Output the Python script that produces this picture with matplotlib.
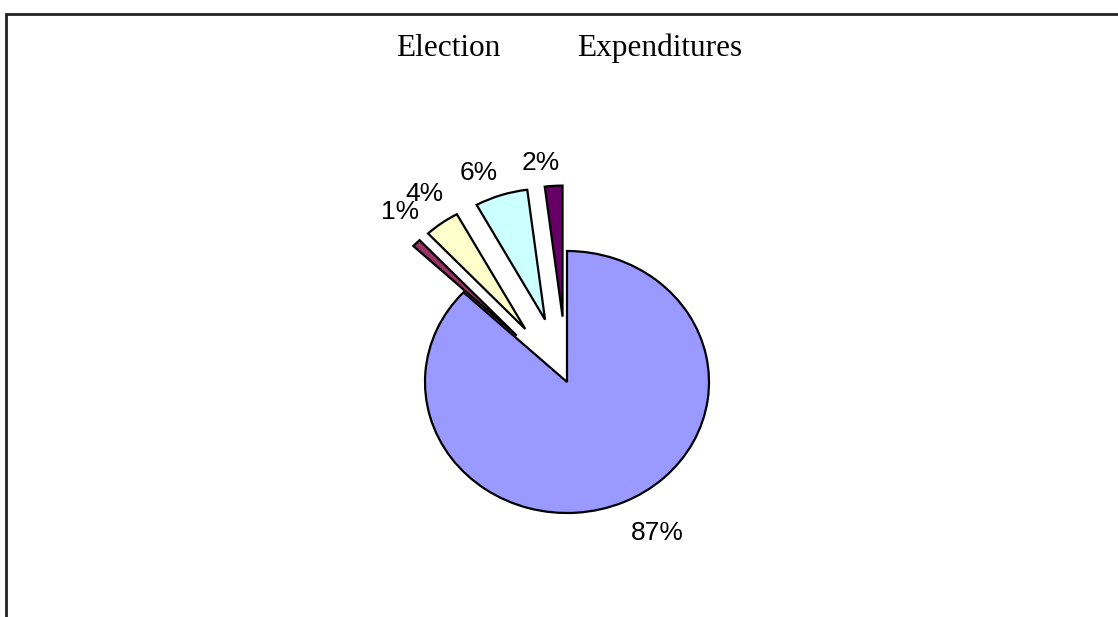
"""
Election expenditures pie chart with exploded small slices.
"""

import matplotlib.pyplot as plt
from matplotlib.patches import Rectangle

# data, clockwise from 12 o'clock
shares = [87, 1, 4, 6, 2]
pct_labels = ["87%", "1%", "4%", "6%", "2%"]
explode = [0.0, 0.5, 0.5, 0.5, 0.5]
colors = ["#9999FF", "#993366", "#FFFFCC", "#CCFFFF", "#660066"]
title_words = ["Election", "Expenditures"]

W, H = 1118, 617
fig = plt.figure(figsize=(W / 100, H / 100), dpi=100)

# pie centre at (567, 382) px, radii 142 px (x) and 131 px (y)
cx, cy, rx, ry = 567, H - 382, 142, 131
xlim, ylim = (-3.0, 3.0), (-1.7, 2.4)
ax = fig.add_axes([
    (cx + xlim[0] * rx) / W,
    (cy + ylim[0] * ry) / H,
    (xlim[1] - xlim[0]) * rx / W,
    (ylim[1] - ylim[0]) * ry / H,
])

wedges, texts = ax.pie(
    shares,
    labels=pct_labels,
    explode=explode,
    colors=colors,
    startangle=90,
    counterclock=False,
    labeldistance=1.3,
    wedgeprops={"edgecolor": "black", "linewidth": 1.6},
    textprops={"fontsize": 19, "family": "Liberation Sans"},
)

# small nudges (px) so the labels sit where the original puts them
nudges = [(17, -5), (14, -3), (8, 3), (-9, 15), (-10, 16)]
for t, (dx, dy) in zip(texts, nudges):
    x, y = t.get_position()
    t.set_position((x + dx / rx, y - dy / ry))
    t.set_ha("center")
    t.set_va("center")

ax.set_aspect("auto")
ax.set_xlim(*xlim)
ax.set_ylim(*ylim)
ax.axis("off")

# title, two words spaced apart
fig.text(448 / W, 1 - 48 / H, title_words[0], ha="center", va="center",
         fontsize=22.5, family="Liberation Serif")
fig.text(660 / W, 1 - 48 / H, title_words[1], ha="center", va="center",
         fontsize=22.5, family="Liberation Serif")

# chart frame (left and top edges visible)
fig.patches.append(Rectangle((6 / W, -0.1), 1.2, 1 - 14 / H + 0.1,
                             transform=fig.transFigure, fill=False,
                             edgecolor="#222222", linewidth=2))

fig.savefig("out.png", dpi=100)
